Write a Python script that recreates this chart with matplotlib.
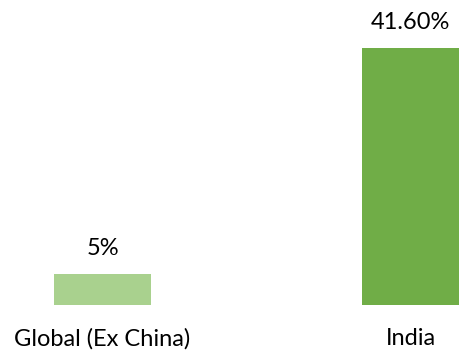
import matplotlib
matplotlib.use("Agg")
import matplotlib.pyplot as plt

categories = ["Global (Ex China)", "India"]
values = [5, 41.6]
value_labels = ["5%", "41.60%"]
colors = ["#A9D18E", "#70AD47"]

fig = plt.figure(figsize=(4.62, 3.51), dpi=100)
ax = fig.add_axes([0, 0, 1, 1])
x = list(range(len(categories)))
ax.bar(x, values, width=0.315, color=colors)
ax.set_xlim(-0.3328, 1.167)
ax.set_ylim(-7.45, 49.37)
ax.axis("off")

font = "Lato"
for xi, v, lab in zip(x, values, value_labels):
    ax.annotate(lab, (xi, v), xytext=(0, 13.5), textcoords="offset points",
                ha="center", va="baseline", fontsize=17, family=font, color="#000000")
for xi, cat in zip(x, categories):
    ax.annotate(cat, (xi, 0), xytext=(0, -29), textcoords="offset points",
                ha="center", va="baseline", fontsize=17, family=font, color="#000000")

fig.savefig("out.png", dpi=100)
